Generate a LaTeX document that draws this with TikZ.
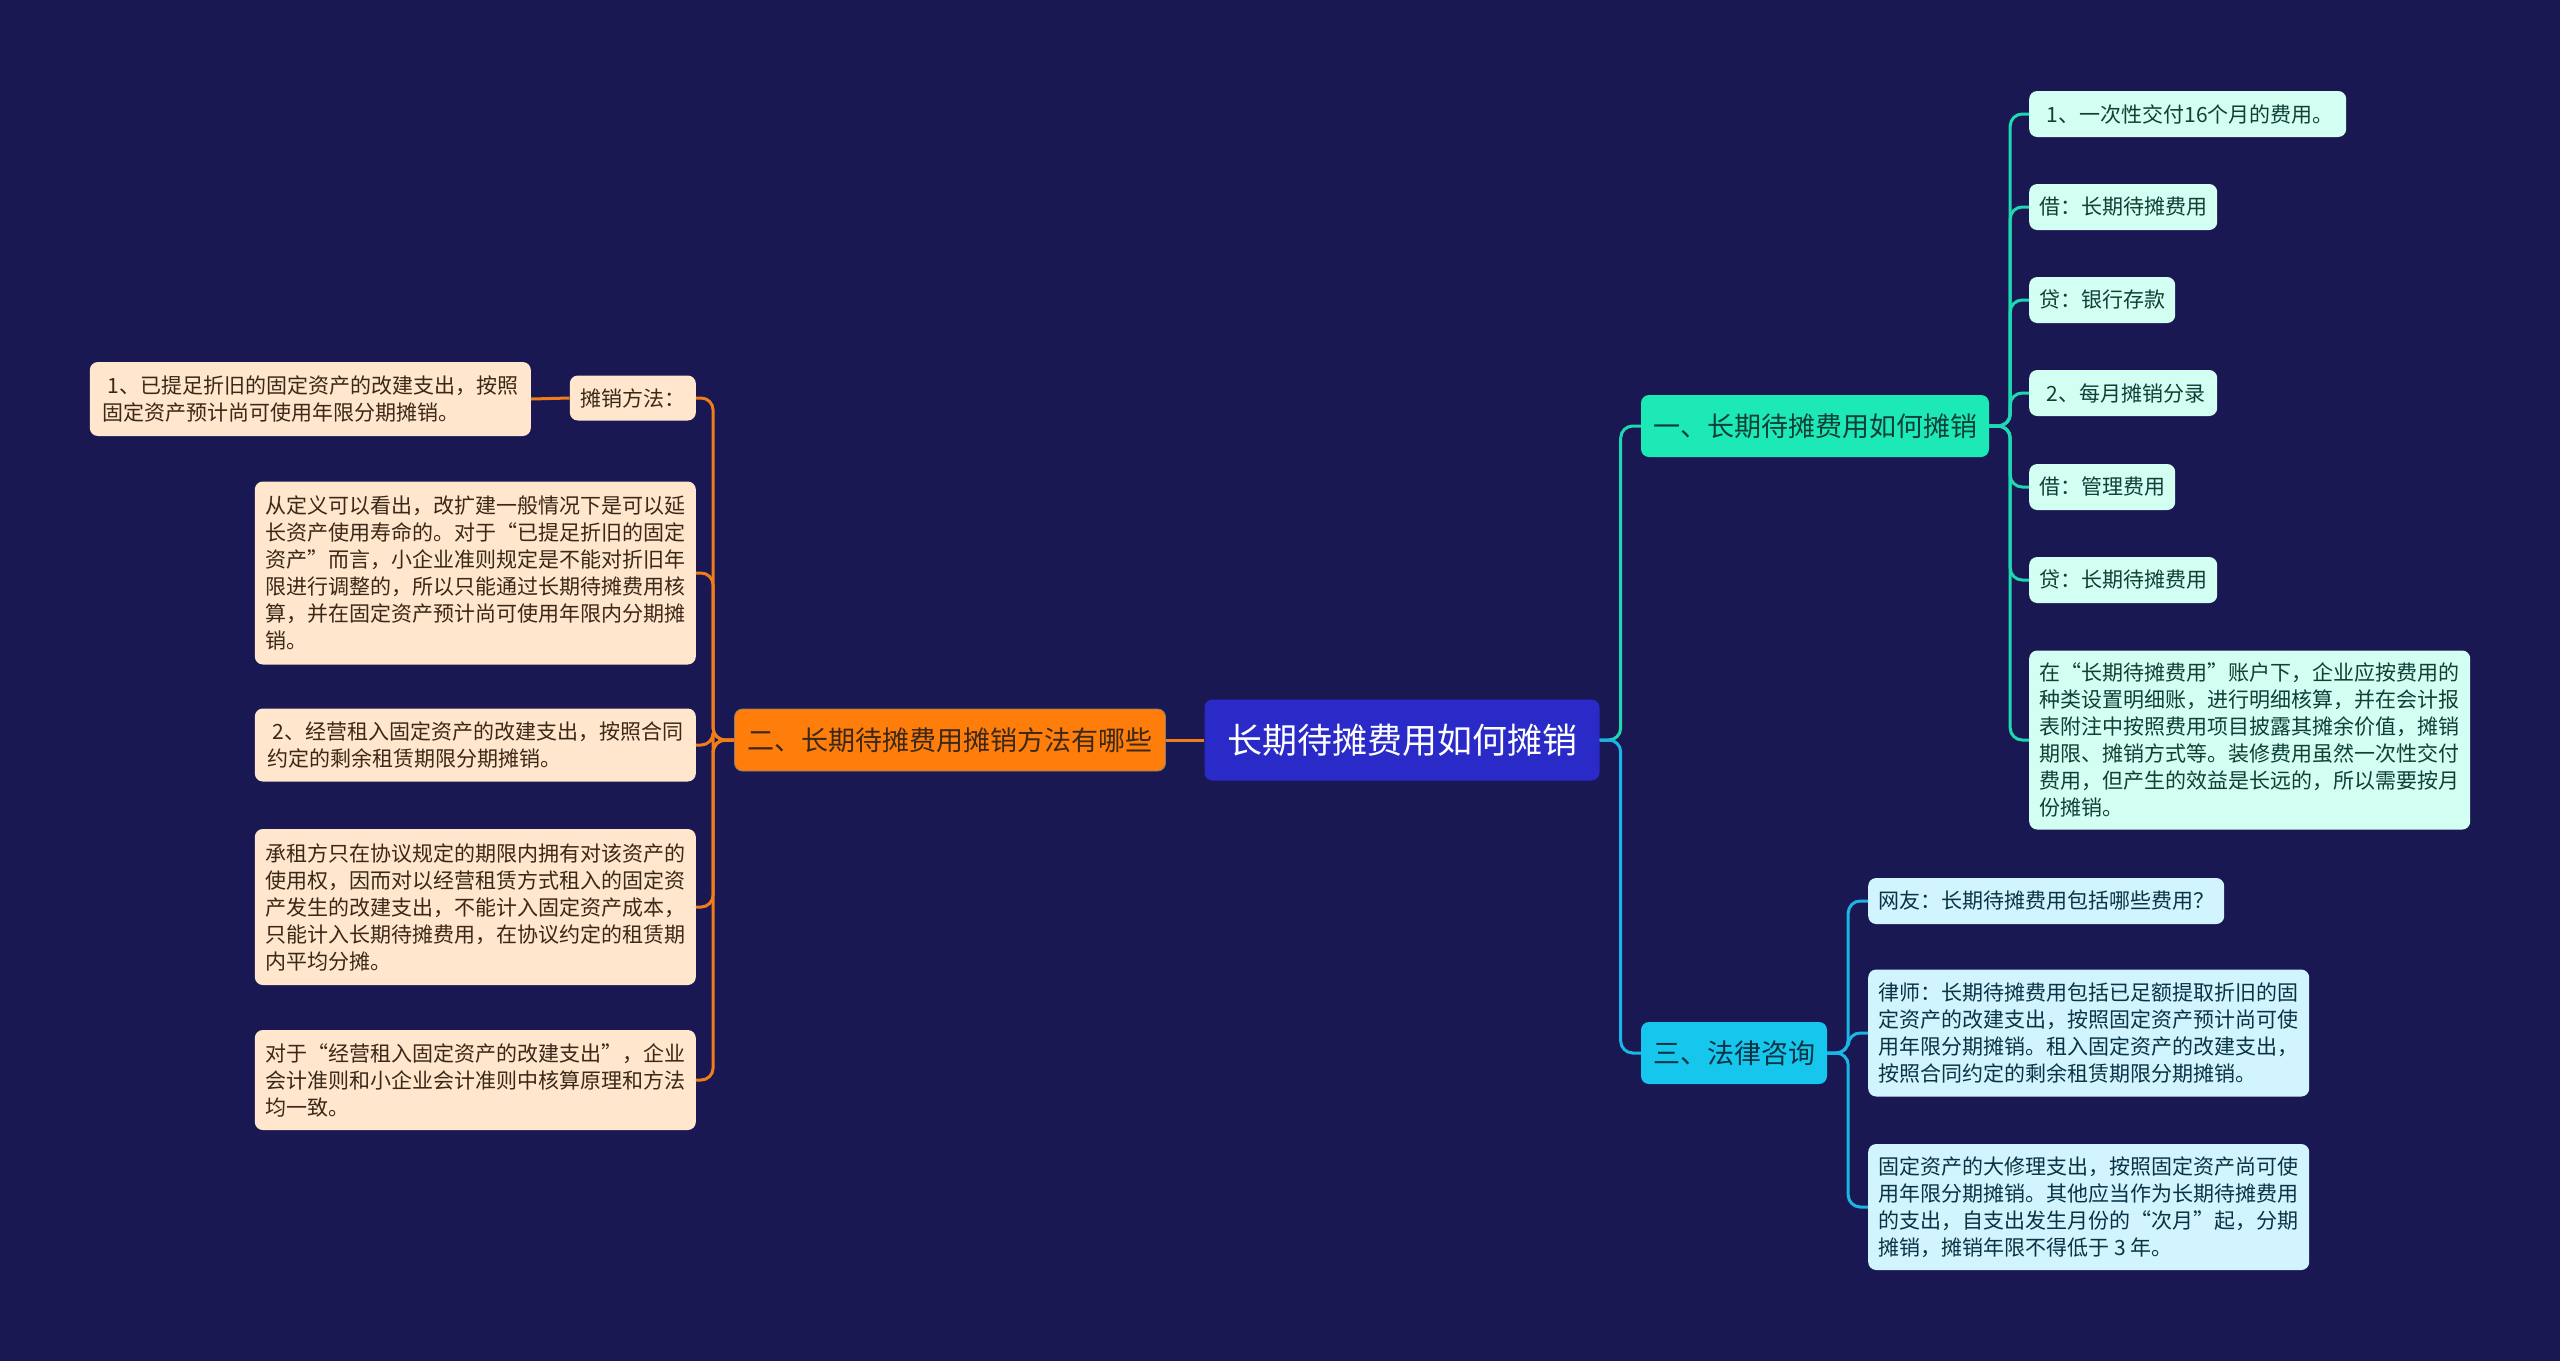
\documentclass[tikz,border=0pt]{standalone}
\usepackage{fontspec}
\setmainfont{Noto Sans CJK SC}
\definecolor{bg}{HTML}{1A1852}
\definecolor{rootc}{HTML}{2A2AC8}
\definecolor{orangec}{HTML}{FF7D0A}
\definecolor{peach}{HTML}{FFE6CC}
\definecolor{brownt}{HTML}{3A2818}
\definecolor{tealc}{HTML}{1DE9B6}
\definecolor{tealt}{HTML}{0F4038}
\definecolor{mint}{HTML}{D2FFF2}
\definecolor{cyanc}{HTML}{16C6EC}
\definecolor{cyant}{HTML}{0A3444}
\definecolor{lcyan}{HTML}{D2F4FF}
\definecolor{tline}{HTML}{1ED8B2}
\definecolor{cline}{HTML}{1BB6E6}
\definecolor{oline}{HTML}{F07D1A}
\tikzset{
  box/.style={rounded corners=8pt, inner xsep=10pt, inner ysep=0pt, align=left},
  rootbox/.style={box, fill=rootc, text=white, font=\fontsize{35}{40}\selectfont, minimum width=395pt, minimum height=81pt, align=center},
  brbox/.style={box, inner xsep=12pt, font=\fontsize{27}{32}\selectfont, minimum height=62pt, align=center},
  obranch/.style={brbox, fill=orangec, text=brownt, draw=brownt!60, line width=0.8pt},
  tbranch/.style={brbox, fill=tealc, text=tealt},
  cbranch/.style={brbox, fill=cyanc, text=cyant},
  leaf/.style={box, font=\fontsize{21}{27}\selectfont, minimum height=46pt},
  lleaf/.style={leaf, fill=peach, text=brownt, anchor=east},
  tleaf/.style={leaf, fill=mint, text=tealt, anchor=west},
  cleaf/.style={leaf, fill=lcyan, text=cyant, anchor=west},
  wide/.style={minimum width=441pt},
  conn/.style={line width=3pt, rounded corners=12pt},
  oconn/.style={conn, draw=oline},
  tconn/.style={conn, draw=tline},
  cconn/.style={conn, draw=cline}
}
\begin{document}
\begin{tikzpicture}[x=1pt,y=-1pt]
\useasboundingbox (0,0) rectangle (2560,1361);
\fill[bg] (0,0) rectangle (2560,1361);

% root and branches
\node[rootbox] (root) at (1402,740) {长期待摊费用如何摊销};
\node[obranch, minimum width=431pt] (b2) at (950,740) {二、长期待摊费用摊销方法有哪些};
\node[tbranch, minimum width=348pt] (b1) at (1815,426) {一、长期待摊费用如何摊销};
\node[cbranch, minimum width=186pt] (b3) at (1734,1053) {三、法律咨询};

% left leaves
\node[lleaf, minimum width=126pt, minimum height=45pt] (l0) at (696,398) {摊销方法：};
\node[lleaf, wide, minimum height=74pt] (l0a) at (531,399) {\hspace*{5pt}1、已提足折旧的固定资产的改建支出，按照\\固定资产预计尚可使用年限分期摊销。};
\node[lleaf, wide, minimum height=183pt] (l1) at (696,573) {从定义可以看出，改扩建一般情况下是可以延\\长资产使用寿命的。对于“已提足折旧的固定\\资产”而言，小企业准则规定是不能对折旧年\\限进行调整的，所以只能通过长期待摊费用核\\算，并在固定资产预计尚可使用年限内分期摊\\销。};
\node[lleaf, wide, minimum height=73pt] (l2) at (696,745) {\hspace*{5pt}2、经营租入固定资产的改建支出，按照合同\\约定的剩余租赁期限分期摊销。};
\node[lleaf, wide, minimum height=156pt] (l3) at (696,907) {承租方只在协议规定的期限内拥有对该资产的\\使用权，因而对以经营租赁方式租入的固定资\\产发生的改建支出，不能计入固定资产成本，\\只能计入长期待摊费用，在协议约定的租赁期\\内平均分摊。};
\node[lleaf, wide, minimum height=100pt] (l4) at (696,1080) {对于“经营租入固定资产的改建支出”，企业\\会计准则和小企业会计准则中核算原理和方法\\均一致。};

% branch 1 leaves
\node[tleaf, minimum width=317pt] (r1) at (2029,114) {\hspace*{5pt}1、一次性交付16个月的费用。};
\node[tleaf] (r2) at (2029,207) {借：长期待摊费用};
\node[tleaf] (r3) at (2029,300) {贷：银行存款};
\node[tleaf, minimum width=188pt] (r4) at (2029,393) {\hspace*{5pt}2、每月摊销分录};
\node[tleaf] (r5) at (2029,487) {借：管理费用};
\node[tleaf] (r6) at (2029,580) {贷：长期待摊费用};
\node[tleaf, wide, minimum height=179pt] (r7) at (2029,740) {在“长期待摊费用”账户下，企业应按费用的\\种类设置明细账，进行明细核算，并在会计报\\表附注中按照费用项目披露其摊余价值，摊销\\期限、摊销方式等。装修费用虽然一次性交付\\费用，但产生的效益是长远的，所以需要按月\\份摊销。};

% branch 3 leaves
\node[cleaf] (s1) at (1868,901) {网友：长期待摊费用包括哪些费用？};
\node[cleaf, wide, minimum height=127pt] (s2) at (1868,1033) {律师：长期待摊费用包括已足额提取折旧的固\\定资产的改建支出，按照固定资产预计尚可使\\用年限分期摊销。租入固定资产的改建支出，\\按照合同约定的剩余租赁期限分期摊销。};
\node[cleaf, wide, minimum height=126pt] (s3) at (1868,1207) {固定资产的大修理支出，按照固定资产尚可使\\用年限分期摊销。其他应当作为长期待摊费用\\的支出，自支出发生月份的“次月”起，分期\\摊销，摊销年限不得低于 3 年。};

% connectors
\draw[oconn] (root.west) -- (b2.east);
\draw[tconn] (root.east) -- ++(21,0) |- (b1.west);
\draw[cconn] (root.east) -- ++(21,0) |- (b3.west);
\foreach \n in {l0,l1,l2,l3,l4} \draw[oconn] (b2.west) -- ++(-21,0) |- (\n.east);
\draw[oconn] (l0.west) -- (l0a.east);
\foreach \n in {r1,r2,r3,r4,r5,r6,r7} \draw[tconn] (b1.east) -- ++(21,0) |- (\n.west);
\foreach \n in {s1,s2,s3} \draw[cconn] (b3.east) -- ++(21,0) |- (\n.west);
\end{tikzpicture}
\end{document}
